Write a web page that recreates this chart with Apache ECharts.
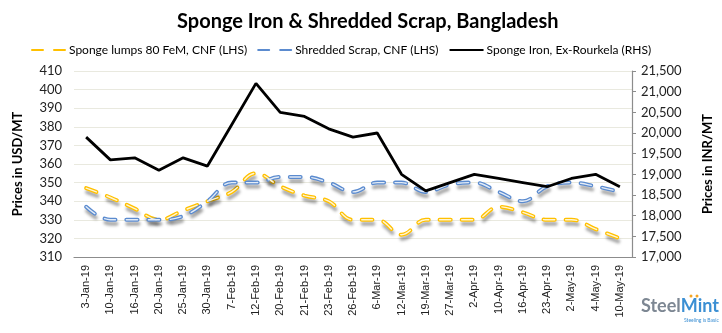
<!DOCTYPE html>
<html>
<head>
<meta charset="utf-8">
<script src="https://cdn.jsdelivr.net/npm/echarts@6/dist/echarts.min.js"></script>
<style>
html,body{margin:0;padding:0;background:#fff;}
#c{width:722px;height:333px;}
</style>
</head>
<body>
<div id="c"></div>
<script>
var categories = ['3-Jan-19','10-Jan-19','16-Jan-19','20-Jan-19','25-Jan-19','30-Jan-19','7-Feb-19','12-Feb-19','20-Feb-19','21-Feb-19','23-Feb-19','26-Feb-19','6-Mar-19','12-Mar-19','19-Mar-19','27-Mar-19','2-Apr-19','10-Apr-19','16-Apr-19','23-Apr-19','2-May-19','4-May-19','10-May-19'];
var spongeLumps = [347,342,336,330,335,340,345,355,348,343,340,330,330,322,330,330,330,337,334,330,330,325,320];
var shreddedScrap = [337,330,330,330,332,340,350,350,353,353,350,345,350,350,345,349,350,345,340,348,350,348,345];
var spongeIronRourkela = [19900,19350,19400,19100,19400,19200,20200,21200,20500,20400,20100,19900,20000,19000,18600,18800,19000,18900,18800,18700,18900,19000,18700];
var leftTicks = {min:310, max:410, interval:10};
var rightTicks = {min:17000, max:21500, interval:500};

var chart = echarts.init(document.getElementById('c'), null, {renderer:'canvas'});
var dash = [11, 11];
function outer(name, data, color){
  return {name:name, type:'line', yAxisIndex:0, data:data, smooth:0.4, symbol:'none', showSymbol:false,
    lineStyle:{color:color, width:4, type:dash, cap:'round', shadowColor:'rgba(0,0,0,0.35)', shadowBlur:3, shadowOffsetY:4, shadowOffsetX:1},
    itemStyle:{color:color}, z:2};
}
function inner(name, data, color){
  return {name:name, type:'line', yAxisIndex:0, data:data, smooth:0.4, symbol:'none', showSymbol:false, silent:true,
    lineStyle:{color:color, width:1.4, type:dash, cap:'round'}, z:3};
}
var option = {
  backgroundColor:'#fff',
  animation:false,
  title:{text:'Sponge Iron & Shredded Scrap, Bangladesh', left:172, top:7,
    textStyle:{fontFamily:'Lato', fontWeight:'bold', fontSize:20, color:'#000'}},
  legend:{left:26, top:39, itemWidth:34, itemHeight:8, itemGap:10,
    itemStyle:{opacity:0},
    data:['Sponge lumps 80 FeM, CNF (LHS)','Shredded Scrap, CNF (LHS)','Sponge Iron, Ex-Rourkela (RHS)'],
    textStyle:{fontFamily:'Lato', fontSize:12, color:'#000', padding:[0,0,0,-2]}},
  grid:{left:74, right:83, top:71, bottom:76},
  xAxis:{type:'category', data:categories, boundaryGap:true,
    axisLine:{lineStyle:{color:'#8c8c8c', width:1.2}}, axisTick:{show:false},
    axisLabel:{rotate:90, interval:0, fontFamily:'Liberation Sans', fontSize:11, color:'#222', margin:8}},
  yAxis:[
    {type:'value', min:leftTicks.min, max:leftTicks.max, interval:leftTicks.interval, position:'left',
     name:'Prices in USD/MT', nameLocation:'middle', nameGap:50, nameRotate:90,
     nameTextStyle:{fontFamily:'Lato', fontWeight:'bold', fontSize:13, color:'#000'},
     axisLine:{show:false}, axisTick:{show:false},
     axisLabel:{fontFamily:'Lato', fontSize:13, color:'#222', margin:12},
     splitLine:{lineStyle:{color:'#e9e9df', width:1}}},
    {type:'value', min:rightTicks.min, max:rightTicks.max, interval:rightTicks.interval, position:'right',
     name:'Prices in INR/MT', nameLocation:'middle', nameGap:69, nameRotate:90,
     nameTextStyle:{fontFamily:'Lato', fontWeight:'bold', fontSize:13, color:'#000'},
     axisLine:{show:true, lineStyle:{color:'#8c8c8c', width:1.2}}, axisTick:{show:true, length:4, lineStyle:{color:'#8c8c8c'}},
     axisLabel:{fontFamily:'Lato', fontSize:13, color:'#222', margin:9,
       formatter:function(v){return v.toString().replace(/\B(?=(\d{3})+(?!\d))/g, ',');}},
     splitLine:{show:false}}
  ],
  series:[
    outer('Sponge lumps 80 FeM, CNF (LHS)', spongeLumps, '#FFC000'),
    inner('_sl', spongeLumps, '#FFF5D6'),
    outer('Shredded Scrap, CNF (LHS)', shreddedScrap, '#5B8BCF'),
    inner('_ss', shreddedScrap, '#E3ECF7'),
    {name:'Sponge Iron, Ex-Rourkela (RHS)', type:'line', yAxisIndex:1, data:spongeIronRourkela, symbol:'none', showSymbol:false,
     lineStyle:{color:'#000', width:2.8}, itemStyle:{color:'#000'}, z:4}
  ],
  graphic:[
    {type:'text', left:641, top:297, style:{text:'{a|Steel}{b|Mint}', rich:{
      a:{fontFamily:'Lato', fontWeight:'bold', fontSize:18, fill:'#7d8793'},
      b:{fontFamily:'Lato', fontWeight:'bold', fontSize:18, fill:'#3b8fd3'}}}},
    {type:'text', left:684, top:318, style:{text:'Steeling is Basic', fontFamily:'Lato', fontSize:5, fill:'#3b8fd3'}},
    {type:'circle', shape:{cx:691, cy:296, r:1.5}, style:{fill:'#f5a623'}},
    {type:'circle', shape:{cx:697, cy:296, r:1.5}, style:{fill:'#f5a623'}}
  ]
};
chart.setOption(option);
</script>
</body>
</html>
